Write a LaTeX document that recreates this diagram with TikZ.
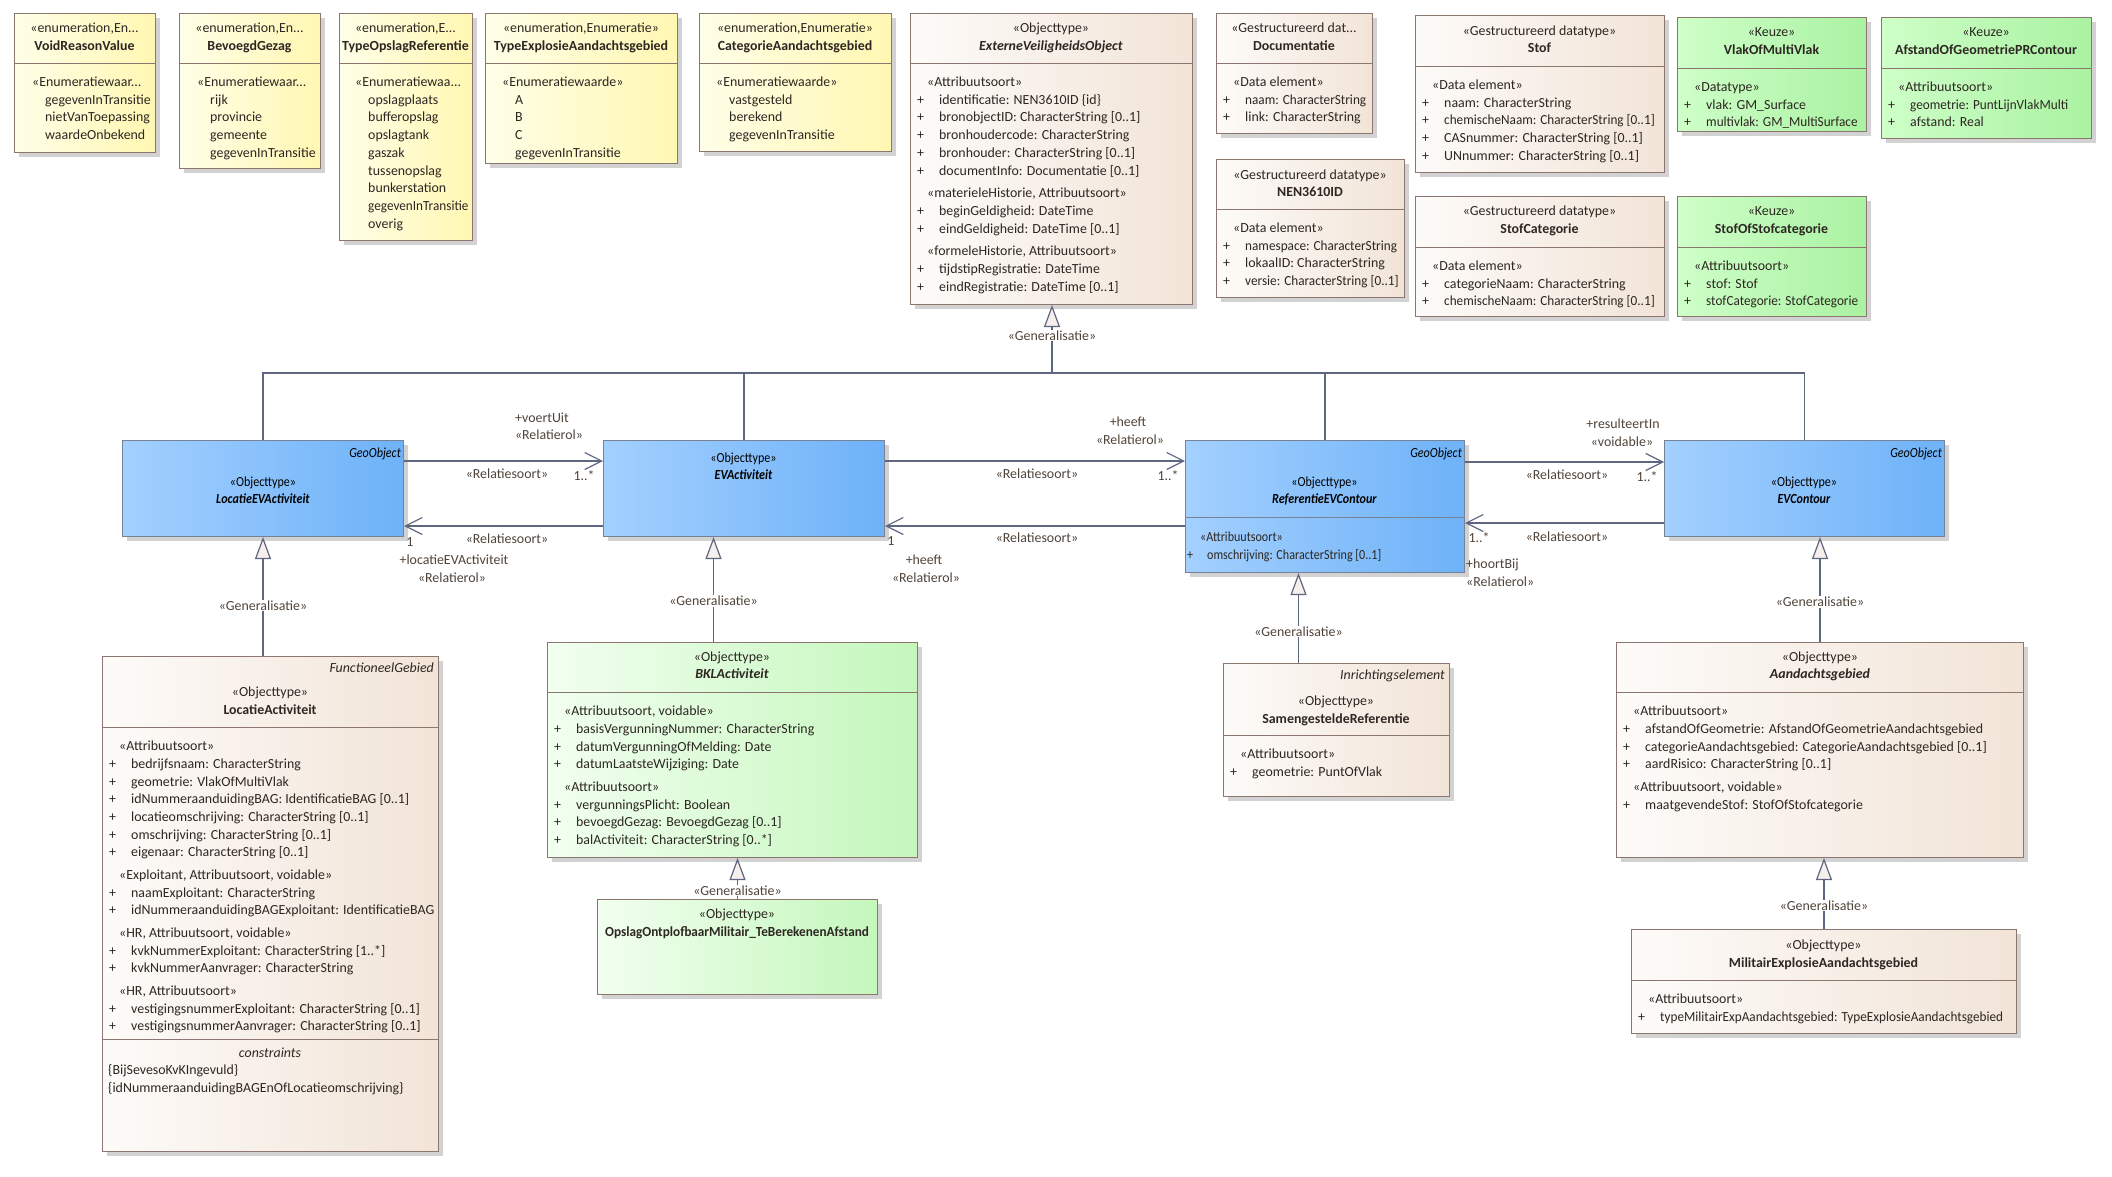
\documentclass[tikz,border=0pt]{standalone}
\usepackage{fontspec}
\setmainfont{Carlito}
\newfontfamily\narrowfont[FakeStretch=0.87]{Carlito}
\usetikzlibrary{arrows.meta,shadows,calc}

\definecolor{enumL}{RGB}{255,255,232}
\definecolor{enumR}{RGB}{255,247,178}
\definecolor{objL}{RGB}{253,251,249}
\definecolor{objR}{RGB}{242,228,215}
\definecolor{grnL}{RGB}{242,255,240}
\definecolor{grnR}{RGB}{196,247,188}
\definecolor{keuL}{RGB}{206,255,200}
\definecolor{keuR}{RGB}{170,242,162}
\definecolor{bluL}{RGB}{163,208,255}
\definecolor{bluR}{RGB}{110,178,248}
\definecolor{boxline}{RGB}{140,118,112}
\definecolor{bluline}{RGB}{120,130,150}
\definecolor{conline}{RGB}{95,102,128}
\definecolor{trifill}{RGB}{246,239,236}
\definecolor{txt}{RGB}{45,38,34}
\definecolor{lbltxt}{RGB}{80,68,58}

\newcommand{\umlfont}{\fontsize{13.9}{17.7}\selectfont}
\newcommand{\umlnarrow}{\narrowfont\fontsize{13.9}{17.7}\selectfont}
\newcommand{\umlhead}[2]{\strut#1\\\strut\textbf{#2}}
\newcommand{\umlst}[1]{\strut\hspace*{10pt}#1}
\newcommand{\umlat}[1]{\strut\makebox[22pt][l]{+}#1}
\newcommand{\umlen}[1]{\strut\hspace*{23pt}#1}
\newcommand{\umlsq}[1]{\scalebox{0.95}[1]{#1}}

\begin{document}
\begin{tikzpicture}[x=1pt,y=-1pt]
	\tikzstyle{cls}=[draw=boxline,line width=1pt,inner sep=0pt,anchor=north west,drop shadow={shadow xshift=4pt,shadow yshift=-4pt,fill=black!35,opacity=0.5}]
	\tikzstyle{enum}=[cls,left color=enumL,right color=enumR]
	\tikzstyle{objt}=[cls,left color=objL,right color=objR]
	\tikzstyle{keuze}=[cls,left color=keuL,right color=keuR]
	\tikzstyle{grnobj}=[cls,left color=grnL,right color=grnR]
	\tikzstyle{geo}=[cls,draw=bluline,left color=bluL,right color=bluR]
	\tikzstyle{divider}=[draw=boxline,line width=1pt]
	\tikzstyle{head}=[align=center,inner sep=0pt,text=txt,font=\umlfont]
	\tikzstyle{geohead}=[head,text=black,font=\umlnarrow]
	\tikzstyle{body}=[align=left,inner sep=0pt,anchor=north west,text=txt,font=\umlfont]
	\tikzstyle{tag}=[inner sep=0pt,anchor=east,text=txt,font=\umlfont\itshape]
	\tikzstyle{geotag}=[tag,text=black,font=\umlnarrow\itshape]
	\tikzstyle{lbl}=[inner sep=0pt,text=lbltxt,font=\umlfont]
	\tikzstyle{genlbl}=[lbl,fill=white,inner sep=1pt]
	\tikzstyle{wire}=[draw=conline,line width=1.2pt]
	\tikzstyle{gen}=[wire,-{Triangle[length=22pt,width=16pt,fill=trifill]}]
	\tikzstyle{assoc}=[wire,-{Straight Barb[length=17pt,width=17pt]}]

	\fill[white] (0,0) rectangle (2112,1176);
	\useasboundingbox (0,0) rectangle (2112,1176);

	% enumeraties
	\node[enum,minimum width=141pt,minimum height=139pt] (vrv) at (14,13) {};
	\draw[divider] (vrv.west |- 0,63) -- (vrv.east |- 0,63);
	\node[head] (vrvh) at (84.5,38) {\umlhead{«enumeration,En...}{VoidReasonValue}};
	\node[body] (vrvb) at (22,74) {\umlst{«Enumeratiewaar...}\\\umlen{gegevenInTransitie}\\\umlen{nietVanToepassing}\\\umlen{waardeOnbekend}};

	\node[enum,minimum width=141pt,minimum height=155pt] (bg) at (179,13) {};
	\draw[divider] (bg.west |- 0,63) -- (bg.east |- 0,63);
	\node[head] (bgh) at (249.5,38) {\umlhead{«enumeration,En...}{BevoegdGezag}};
	\node[body] (bgb) at (187,74) {\umlst{«Enumeratiewaar...}\\\umlen{rijk}\\\umlen{provincie}\\\umlen{gemeente}\\\umlen{gegevenInTransitie}};

	\node[enum,minimum width=133pt,minimum height=227pt] (tor) at (339,13) {};
	\draw[divider] (tor.west |- 0,63) -- (tor.east |- 0,63);
	\node[head] (torh) at (405.5,38) {\umlhead{«enumeration,E...}{TypeOpslagReferentie}};
	\node[body] (torb) at (345,74) {\umlst{«Enumeratiewaa...}\\\umlen{opslagplaats}\\\umlen{bufferopslag}\\\umlen{opslagtank}\\\umlen{gaszak}\\\umlen{tussenopslag}\\\umlen{bunkerstation}\\\umlen{\umlsq{gegevenInTransitie}}\\\umlen{overig}};

	\node[enum,minimum width=192pt,minimum height=150pt] (tea) at (485,13) {};
	\draw[divider] (tea.west |- 0,63) -- (tea.east |- 0,63);
	\node[head] (teah) at (581,38) {\umlhead{«enumeration,Enumeratie»}{TypeExplosieAandachtsgebied}};
	\node[body] (teab) at (492,74) {\umlst{«Enumeratiewaarde»}\\\umlen{A}\\\umlen{B}\\\umlen{C}\\\umlen{gegevenInTransitie}};

	\node[enum,minimum width=192pt,minimum height=138pt] (cag) at (699,13) {};
	\draw[divider] (cag.west |- 0,63) -- (cag.east |- 0,63);
	\node[head] (cagh) at (795,38) {\umlhead{«enumeration,Enumeratie»}{CategorieAandachtsgebied}};
	\node[body] (cagb) at (706,74) {\umlst{«Enumeratiewaarde»}\\\umlen{vastgesteld}\\\umlen{berekend}\\\umlen{gegevenInTransitie}};

	% supertype en datatypes
	\node[objt,minimum width=282pt,minimum height=291pt] (evo) at (910,13) {};
	\draw[divider] (evo.west |- 0,63) -- (evo.east |- 0,63);
	\node[head] (evoh) at (1051,38) {\umlhead{«Objecttype»}{\itshape ExterneVeiligheidsObject}};
	\node[body] (evob) at (917,74) {\umlst{«Attribuutsoort»}\\\umlat{identificatie: NEN3610ID \{id\}}\\\umlat{bronobjectID: CharacterString [0..1]}\\\umlat{bronhoudercode: CharacterString}\\\umlat{bronhouder: CharacterString [0..1]}\\\umlat{documentInfo: Documentatie [0..1]}\\[4.9pt]
		\umlst{«materieleHistorie, Attribuutsoort»}\\\umlat{beginGeldigheid: DateTime}\\\umlat{eindGeldigheid: DateTime [0..1]}\\[4.9pt]
		\umlst{«formeleHistorie, Attribuutsoort»}\\\umlat{tijdstipRegistratie: DateTime}\\\umlat{eindRegistratie: DateTime [0..1]}};

	\node[objt,minimum width=156pt,minimum height=120pt] (doc) at (1216,13) {};
	\draw[divider] (doc.west |- 0,63) -- (doc.east |- 0,63);
	\node[head] (doch) at (1294,38) {\umlhead{«Gestructureerd dat...}{Documentatie}};
	\node[body] (docb) at (1223,74) {\umlst{«Data element»}\\\umlat{\umlsq{naam: CharacterString}}\\\umlat{link: CharacterString}};

	\node[objt,minimum width=188pt,minimum height=138pt] (nen) at (1216,159) {};
	\draw[divider] (nen.west |- 0,209) -- (nen.east |- 0,209);
	\node[head] (nenh) at (1310,184.5) {\umlhead{«Gestructureerd datatype»}{NEN3610ID}};
	\node[body] (nenb) at (1223,220) {\umlst{«Data element»}\\\umlat{\umlsq{namespace: CharacterString}}\\\umlat{lokaalID: CharacterString}\\\umlat{\umlsq{versie: CharacterString [0..1]}}};

	\node[objt,minimum width=249pt,minimum height=157pt] (stof) at (1415,15) {};
	\draw[divider] (stof.west |- 0,66) -- (stof.east |- 0,66);
	\node[head] (stofh) at (1539.5,40.5) {\umlhead{«Gestructureerd datatype»}{Stof}};
	\node[body] (stofb) at (1422,77) {\umlst{«Data element»}\\\umlat{naam: CharacterString}\\\umlat{\umlsq{chemischeNaam: CharacterString [0..1]}}\\\umlat{CASnummer: CharacterString [0..1]}\\\umlat{UNnummer: CharacterString [0..1]}};

	\node[objt,minimum width=249pt,minimum height=120pt] (stc) at (1415,196) {};
	\draw[divider] (stc.west |- 0,247) -- (stc.east |- 0,247);
	\node[head] (stch) at (1539.5,221) {\umlhead{«Gestructureerd datatype»}{StofCategorie}};
	\node[body] (stcb) at (1422,258) {\umlst{«Data element»}\\\umlat{categorieNaam: CharacterString}\\\umlat{\umlsq{chemischeNaam: CharacterString [0..1]}}};

	\node[keuze,minimum width=189pt,minimum height=114pt] (vmv) at (1677,17) {};
	\draw[divider] (vmv.west |- 0,68) -- (vmv.east |- 0,68);
	\node[head] (vmvh) at (1771.5,42) {\umlhead{«Keuze»}{VlakOfMultiVlak}};
	\node[body] (vmvb) at (1684,79) {\umlst{«Datatype»}\\\umlat{vlak: GM\_Surface}\\\umlat{\umlsq{multivlak: GM\_MultiSurface}}};

	\node[keuze,minimum width=189pt,minimum height=120pt] (sos) at (1677,196) {};
	\draw[divider] (sos.west |- 0,247) -- (sos.east |- 0,247);
	\node[head] (sosh) at (1771.5,221) {\umlhead{«Keuze»}{StofOfStofcategorie}};
	\node[body] (sosb) at (1684,258) {\umlst{«Attribuutsoort»}\\\umlat{stof: Stof}\\\umlat{\umlsq{stofCategorie: StofCategorie}}};

	\node[keuze,minimum width=210pt,minimum height=121pt] (agc) at (1881,17) {};
	\draw[divider] (agc.west |- 0,68) -- (agc.east |- 0,68);
	\node[head] (agch) at (1986,42) {\umlhead{«Keuze»}{AfstandOfGeometriePRContour}};
	\node[body] (agcb) at (1888,79) {\umlst{«Attribuutsoort»}\\\umlat{\umlsq{geometrie: PuntLijnVlakMulti}}\\\umlat{afstand: Real}};

	% objecttypen middenrij
	\node[geo,minimum width=281pt,minimum height=96pt] (lev) at (122,440) {};
	\node[geotag] (levt) at ($(lev.north east)+(-3,14)$) {GeoObject};
	\node[geohead] (levh) at (263,491.5) {\umlhead{«Objecttype»}{\itshape LocatieEVActiviteit}};

	\node[geo,minimum width=281pt,minimum height=96pt] (eva) at (603,440) {};
	\node[geohead] (evah) at (743.5,467.5) {\umlhead{«Objecttype»}{\itshape EVActiviteit}};

	\node[geo,minimum width=279pt,minimum height=132pt] (rec) at (1185,440) {};
	\draw[divider,draw=bluline] (rec.west |- 0,517) -- (rec.east |- 0,517);
	\node[geotag] (rect) at ($(rec.north east)+(-3,14)$) {GeoObject};
	\node[geohead] (rech) at (1324.5,491.5) {\umlhead{«Objecttype»}{\itshape ReferentieEVContour}};
	\node[body,font=\umlnarrow] (recb) at (1187,529) {\strut\hspace*{13pt}«Attribuutsoort»\\\strut\makebox[20pt][l]{+}omschrijving: CharacterString [0..1]};

	\node[geo,minimum width=280pt,minimum height=96pt] (evc) at (1664,440) {};
	\node[geotag] (evct) at ($(evc.north east)+(-3,14)$) {GeoObject};
	\node[geohead] (evch) at (1804,491.5) {\umlhead{«Objecttype»}{\itshape EVContour}};

	% subtypen onderrij
	\node[objt,minimum width=336pt,minimum height=495pt] (lac) at (102,656) {};
	\draw[divider] (lac.west |- 0,727) -- (lac.east |- 0,727);
	\draw[divider] (lac.west |- 0,1039) -- (lac.east |- 0,1039);
	\node[tag] (lact) at ($(lac.north east)+(-5,12)$) {FunctioneelGebied};
	\node[head] (lach) at (270,702) {\umlhead{«Objecttype»}{LocatieActiviteit}};
	\node[body] (lacb) at (109,738) {\umlst{«Attribuutsoort»}\\\umlat{bedrijfsnaam: CharacterString}\\\umlat{geometrie: VlakOfMultiVlak}\\\umlat{idNummeraanduidingBAG: IdentificatieBAG [0..1]}\\\umlat{locatieomschrijving: CharacterString [0..1]}\\\umlat{omschrijving: CharacterString [0..1]}\\\umlat{eigenaar: CharacterString [0..1]}\\[4.9pt]
		\umlst{«Exploitant, Attribuutsoort, voidable»}\\\umlat{naamExploitant: CharacterString}\\\umlat{idNummeraanduidingBAGExploitant: IdentificatieBAG}\\[4.9pt]
		\umlst{«HR, Attribuutsoort, voidable»}\\\umlat{kvkNummerExploitant: CharacterString [1..*]}\\\umlat{kvkNummerAanvrager: CharacterString}\\[4.9pt]
		\umlst{«HR, Attribuutsoort»}\\\umlat{vestigingsnummerExploitant: CharacterString [0..1]}\\\umlat{vestigingsnummerAanvrager: CharacterString [0..1]}};
	\node[head,font=\umlfont\itshape] (lacc) at (270,1053) {constraints};
	\node[body] (lack) at (108,1062) {\strut\{BijSevesoKvKIngevuld\}\\\strut\{idNummeraanduidingBAGEnOfLocatieomschrijving\}};

	\node[grnobj,minimum width=370pt,minimum height=215pt] (bkl) at (547,642) {};
	\draw[divider] (bkl.west |- 0,692) -- (bkl.east |- 0,692);
	\node[head] (bklh) at (732,666.5) {\umlhead{«Objecttype»}{\itshape BKLActiviteit}};
	\node[body] (bklb) at (554,703) {\umlst{«Attribuutsoort, voidable»}\\\umlat{basisVergunningNummer: CharacterString}\\\umlat{datumVergunningOfMelding: Date}\\\umlat{datumLaatsteWijziging: Date}\\[4.9pt]
		\umlst{«Attribuutsoort»}\\\umlat{vergunningsPlicht: Boolean}\\\umlat{bevoegdGezag: BevoegdGezag [0..1]}\\\umlat{balActiviteit: CharacterString [0..*]}};

	\node[grnobj,minimum width=280pt,minimum height=95pt] (opm) at (597,899) {};
	\node[head] (opmh) at (737,924) {\umlhead{«Objecttype»}{\umlsq{OpslagOntplofbaarMilitair\_TeBerekenenAfstand}}};

	\node[objt,minimum width=226pt,minimum height=133pt] (sgr) at (1223,663) {};
	\draw[divider] (sgr.west |- 0,735) -- (sgr.east |- 0,735);
	\node[tag] (sgrt) at ($(sgr.north east)+(-5,13)$) {Inrichtingselement};
	\node[head] (sgrh) at (1336,711) {\umlhead{«Objecttype»}{SamengesteldeReferentie}};
	\node[body] (sgrb) at (1230,746) {\umlst{«Attribuutsoort»}\\\umlat{geometrie: PuntOfVlak}};

	\node[objt,minimum width=407pt,minimum height=215pt] (adg) at (1616,642) {};
	\draw[divider] (adg.west |- 0,692) -- (adg.east |- 0,692);
	\node[head] (adgh) at (1820,666.5) {\umlhead{«Objecttype»}{\itshape Aandachtsgebied}};
	\node[body] (adgb) at (1623,703) {\umlst{«Attribuutsoort»}\\\umlat{afstandOfGeometrie: AfstandOfGeometrieAandachtsgebied}\\\umlat{categorieAandachtsgebied: CategorieAandachtsgebied [0..1]}\\\umlat{aardRisico: CharacterString [0..1]}\\[4.9pt]
		\umlst{«Attribuutsoort, voidable»}\\\umlat{maatgevendeStof: StofOfStofcategorie}};

	\node[objt,minimum width=385pt,minimum height=104pt] (mea) at (1631,929) {};
	\draw[divider] (mea.west |- 0,980) -- (mea.east |- 0,980);
	\node[head] (meah) at (1823.5,955) {\umlhead{«Objecttype»}{MilitairExplosieAandachtsgebied}};
	\node[body] (meab) at (1638,991) {\umlst{«Attribuutsoort»}\\\umlat{\umlsq{typeMilitairExpAandachtsgebied: TypeExplosieAandachtsgebied}}};

	% generalisaties
	\coordinate (bus) at (1052,373);
	\coordinate (bklup) at ([xshift=-30.5pt]eva.south);
	\coordinate (sgrup) at ([xshift=-26.5pt]rec.south);
	\draw[wire] (lev.north) -- (lev.north |- bus) -- (evc.north |- bus) -- (evc.north);
	\draw[wire] (eva.north) -- (eva.north |- bus);
	\draw[wire] (rec.north) -- (rec.north |- bus);
	\draw[gen] (bus) -- (evo.south -| bus) node[genlbl,pos=0.55] (g0) {«Generalisatie»};
	\draw[gen] (lev.south |- lac.north) -- (lev.south) node[genlbl,pos=0.425] (g1) {«Generalisatie»};
	\draw[gen] (bklup |- bkl.north) -- (bklup) node[genlbl,pos=0.39] (g2) {«Generalisatie»};
	\draw[gen] (opm.north) -- (opm.north |- bkl.south) node[genlbl,pos=0.21] (g3) {«Generalisatie»};
	\draw[gen] (sgrup |- sgr.north) -- (sgrup) node[genlbl,pos=0.35] (g4) {«Generalisatie»};
	\draw[gen] (adg.north) -- (adg.north |- evc.south) node[genlbl,pos=0.38] (g5) {«Generalisatie»};
	\draw[gen] (mea.north) -- (mea.north |- adg.south) node[genlbl,pos=0.33] (g6) {«Generalisatie»};

	% relaties
	\draw[assoc] ($(lev.north east)+(0,21)$) -- ($(eva.north west)+(0,21)$);
	\draw[assoc] ($(eva.north west)+(0,86)$) -- ($(lev.north east)+(0,86)$);
	\draw[assoc] ($(eva.north east)+(0,21)$) -- ($(rec.north west)+(0,21)$);
	\draw[assoc] ($(rec.north west)+(0,86)$) -- ($(eva.north east)+(0,86)$);
	\draw[assoc] ($(rec.north east)+(0,22)$) -- ($(evc.north west)+(0,22)$);
	\draw[assoc] ($(evc.north west)+(0,83)$) -- ($(rec.north east)+(0,83)$);

	\node[lbl] (r1) at (542,418) {+voertUit};
	\node[lbl] (r2) at (549,435) {«Relatierol»};
	\node[lbl] (r3) at (507,474) {«Relatiesoort»};
	\node[lbl] (r4) at (584,476) {1..*};
	\node[lbl] (r5) at (507,539) {«Relatiesoort»};
	\node[lbl] (r6) at (410,542) {1};
	\node[lbl] (r7) at (454,560) {+locatieEVActiviteit};
	\node[lbl] (r8) at (452,578) {«Relatierol»};
	\node[lbl] (r9) at (1128,422) {+heeft};
	\node[lbl] (r10) at (1130,440) {«Relatierol»};
	\node[lbl] (r11) at (1037,474) {«Relatiesoort»};
	\node[lbl] (r12) at (1168,476) {1..*};
	\node[lbl] (r13) at (1037,538) {«Relatiesoort»};
	\node[lbl] (r14) at (891,541) {1};
	\node[lbl] (r15) at (924,560) {+heeft};
	\node[lbl] (r16) at (926,578) {«Relatierol»};
	\node[lbl] (r17) at (1623,424) {+resulteertIn};
	\node[lbl] (r18) at (1622,442) {«voidable»};
	\node[lbl] (r19) at (1567,475) {«Relatiesoort»};
	\node[lbl] (r20) at (1647,477) {1..*};
	\node[lbl] (r21) at (1567,537) {«Relatiesoort»};
	\node[lbl] (r22) at (1479,538) {1..*};
	\node[lbl,anchor=west] (r23) at (1466,565) {+hoortBij};
	\node[lbl,anchor=west] (r24) at (1466,582) {«Relatierol»};
\end{tikzpicture}
\end{document}
